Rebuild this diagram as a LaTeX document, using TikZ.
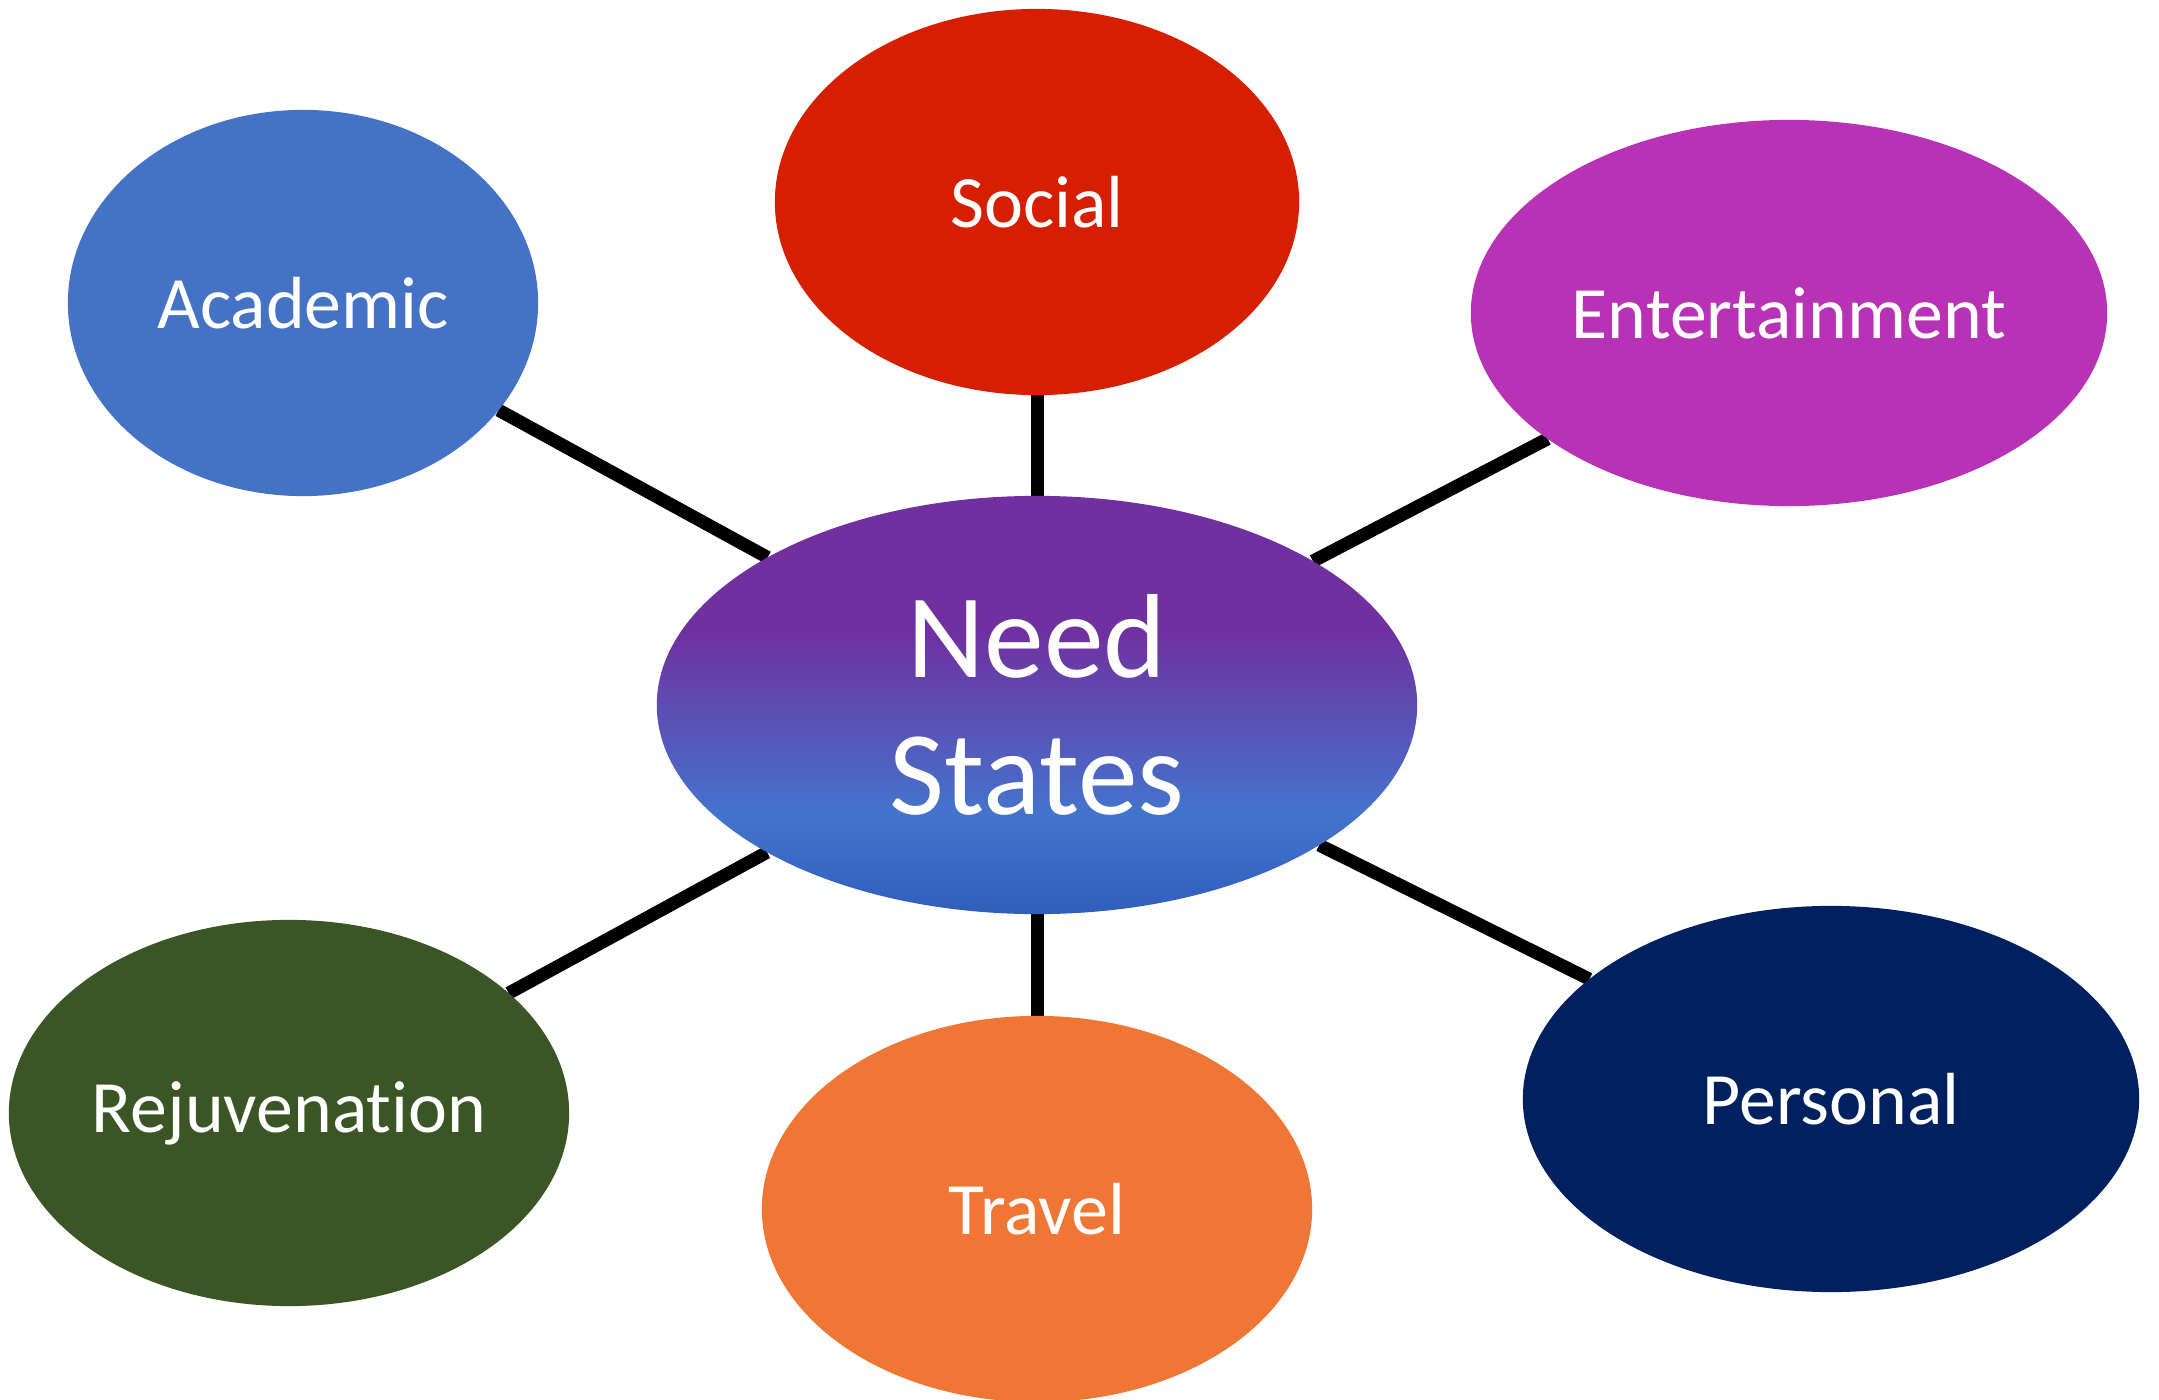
\documentclass[tikz,border=0pt]{standalone}
\usepackage{fontspec}
\setmainfont[Ligatures=NoCommon]{Carlito}
\usetikzlibrary{shapes.geometric,backgrounds}
\definecolor{cAcad}{HTML}{4472C4}
\definecolor{cSoc}{HTML}{D61E00}
\definecolor{cEnt}{HTML}{B832B6}
\definecolor{cRej}{HTML}{3A5624}
\definecolor{cTrav}{HTML}{EF7634}
\definecolor{cPers}{HTML}{002060}
\definecolor{nsTop}{HTML}{7030A0}
\definecolor{nsMid}{HTML}{4374CC}
\definecolor{nsBot}{HTML}{2F5EBD}
\pgfdeclareverticalshading{nsshade}{100bp}{color(0bp)=(nsBot); color(25bp)=(nsBot); color(37bp)=(nsMid); color(59bp)=(nsTop); color(75bp)=(nsTop); color(100bp)=(nsTop)}
\tikzset{
  bubble/.style={ellipse, inner sep=0pt, outer sep=0pt, text=white, font=\fontsize{21}{25}\selectfont, minimum height=3.86cm},
  link/.style={line width=3.7pt, black}
}
\begin{document}
\begin{tikzpicture}[x=0.01cm,y=-0.01cm]
\useasboundingbox (0,0) rectangle (2159,1400);
\node[bubble, fill=cAcad, minimum width=4.70cm] (acad) at (303,303) {Academic};
\node[bubble, fill=cSoc, minimum width=5.24cm] (soc) at (1037,202) {Social};
\node[bubble, fill=cEnt, minimum width=6.36cm] (ent) at (1789,313) {Entertainment};
\node[bubble, fill=cRej, minimum width=5.60cm] (rej) at (289,1113) {Rejuvenation};
\node[bubble, fill=cTrav, minimum width=5.50cm] (trav) at (1037,1209) {Travel};
\node[bubble, fill=cPers, minimum width=6.16cm] (pers) at (1831,1099) {Personal};
\node[ellipse, inner sep=0pt, outer sep=0pt, shading=nsshade, minimum width=7.60cm, minimum height=4.18cm, text=white, align=center, font=\fontsize{34}{39}\selectfont] (ns) at (1037,705) {Need\\States};
\begin{scope}[on background layer]
\draw[link] (acad) -- (ns);
\draw[link] (soc) -- (ns);
\draw[link] (ent) -- (ns);
\draw[link] (rej) -- (ns);
\draw[link] (trav) -- (ns);
\draw[link] (pers) -- (ns);
\end{scope}
\end{tikzpicture}
\end{document}
